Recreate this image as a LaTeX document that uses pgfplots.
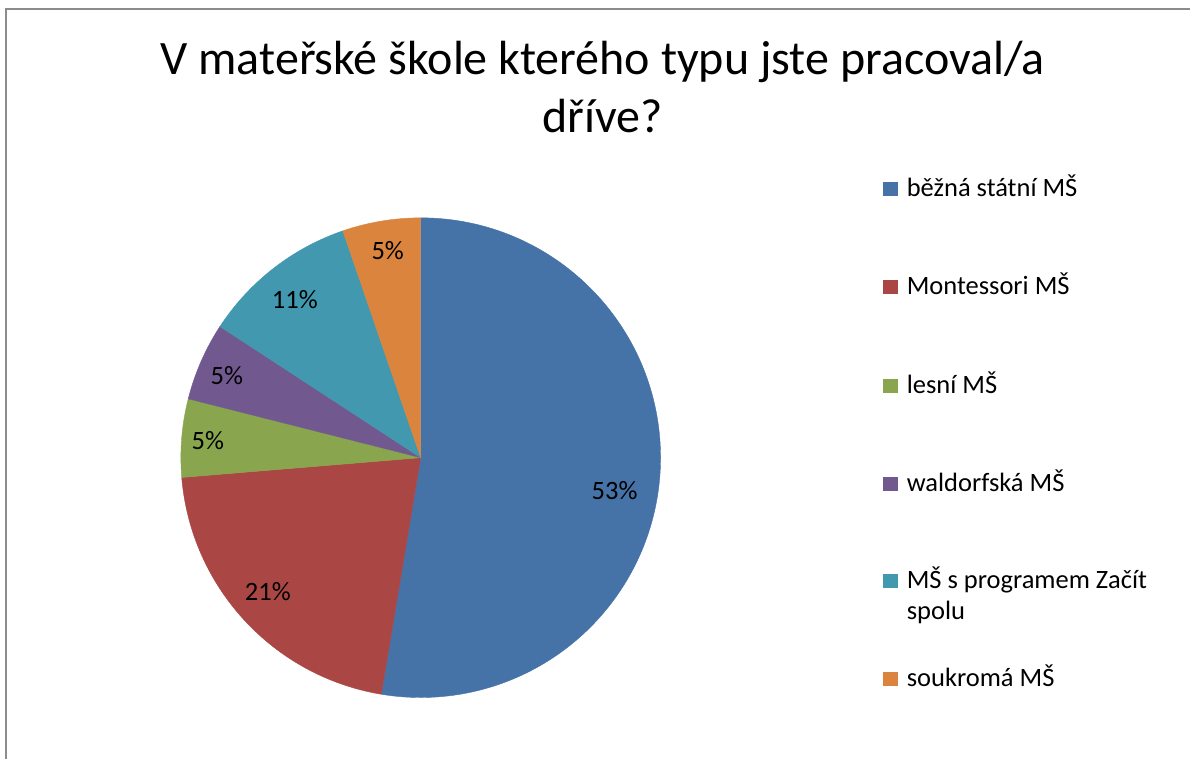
\documentclass[border=0pt]{standalone}
\usepackage{pgfplots}
\usepackage{pgfplotstable}
\pgfplotsset{compat=1.18}
\usepackage{fontspec}
\setmainfont{Carlito}
\definecolor{c1}{HTML}{4572A7}
\definecolor{c2}{HTML}{AA4643}
\definecolor{c3}{HTML}{89A54E}
\definecolor{c4}{HTML}{71588F}
\definecolor{c5}{HTML}{4198AF}
\definecolor{c6}{HTML}{DB843D}
\definecolor{bordergray}{HTML}{8C8C8C}

% count, label position (px), colour, legend baseline (px)
\pgfplotstableread{
count lx ly col legy
10 615 491 c1 197
4 268 592 c2 295
1 208 441 c3 394
1 227 376 c4 492
2 295 300 c5 589
1 388 251 c6 687
}\piedata

\newcommand\labelfont{\fontsize{13.3}{15}\selectfont}
\newcommand\legfont{\fontsize{13.3}{16}\selectfont}

\begin{document}
\begin{tikzpicture}
\begin{axis}[
  width=595.5bp, height=380bp, scale only axis,
  xmin=0, xmax=1191, ymin=0, ymax=760,
  y dir=reverse, hide axis, clip=false,
]
\path (axis cs:0,0) rectangle (axis cs:1191,760);
\draw[bordergray, line width=0.8bp] (axis cs:1191,9) -- (axis cs:6,9) -- (axis cs:6,760);

% total
\def\total{0}
\pgfplotsforeachungrouped \i in {0,...,5}{%
  \pgfplotstablegetelem{\i}{count}\of\piedata
  \pgfmathsetmacro{\total}{\total+\pgfplotsretval}%
}
\def\startang{90}
\pgfplotsforeachungrouped \i in {0,...,5}{%
  \pgfplotstablegetelem{\i}{count}\of\piedata \let\cnt\pgfplotsretval
  \pgfplotstablegetelem{\i}{col}\of\piedata \let\col\pgfplotsretval
  \pgfmathsetmacro{\endang}{\startang-360*\cnt/\total}%
  \edef\temp{\noexpand\fill[\col, draw=\col, line width=0.2pt] (axis cs:421,458) -- ++(\startang:120bp) arc[start angle=\startang, end angle=\endang, radius=120bp] -- cycle;}%
  \temp
  \let\startang\endang
}
\pgfplotsforeachungrouped \i in {0,...,5}{%
  \pgfplotstablegetelem{\i}{count}\of\piedata \let\cnt\pgfplotsretval
  \pgfplotstablegetelem{\i}{lx}\of\piedata \let\lx\pgfplotsretval
  \pgfplotstablegetelem{\i}{ly}\of\piedata \let\ly\pgfplotsretval
  \pgfplotstablegetelem{\i}{col}\of\piedata \let\col\pgfplotsretval
  \pgfplotstablegetelem{\i}{legy}\of\piedata \let\legy\pgfplotsretval
  \pgfmathtruncatemacro{\pct}{round(100*\cnt/\total)}%
  \pgfmathsetmacro{\sqa}{\legy-15}%
  \pgfmathsetmacro{\sqb}{\legy-1}%
  \edef\temp{\noexpand\node[font=\noexpand\labelfont, inner sep=0pt] at (axis cs:\lx,\ly) {\pct\noexpand\%};
    \noexpand\fill[\col] (axis cs:884,\sqa) rectangle (axis cs:899,\sqb);}%
  \temp
}
\node[anchor=base west, inner sep=0pt, font=\legfont] at (axis cs:907,197) {běžná státní MŠ};
\node[anchor=base west, inner sep=0pt, font=\legfont] at (axis cs:907,295) {Montessori MŠ};
\node[anchor=base west, inner sep=0pt, font=\legfont] at (axis cs:907,394) {lesní MŠ};
\node[anchor=base west, inner sep=0pt, font=\legfont] at (axis cs:907,492) {waldorfská MŠ};
\node[anchor=base west, inner sep=0pt, font=\legfont] at (axis cs:907,589) {MŠ s programem Začít};
\node[anchor=base west, inner sep=0pt, font=\legfont] at (axis cs:907,620) {spolu};
\node[anchor=base west, inner sep=0pt, font=\legfont] at (axis cs:907,687) {soukromá MŠ};

\node[anchor=base, inner sep=0pt, font=\fontsize{24.1}{29}\selectfont] at (axis cs:603,75) {V mateřské škole kterého typu jste pracoval/a};
\node[anchor=base, inner sep=0pt, font=\fontsize{24.1}{29}\selectfont] at (axis cs:603,133) {dříve?};
\end{axis}
\end{tikzpicture}
\end{document}
